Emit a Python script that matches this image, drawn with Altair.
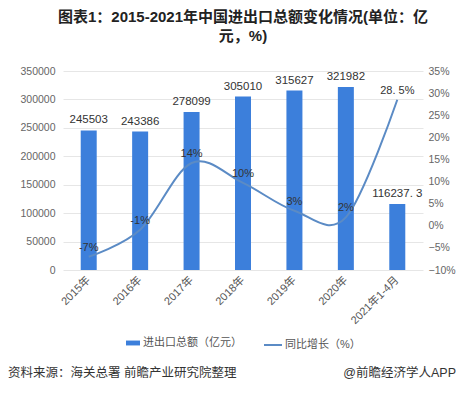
import altair as alt
import pandas as pd

years = ["2015年", "2016年", "2017年", "2018年", "2019年", "2020年", "2021年1-4月"]
totals = [245503, 243386, 278099, 305010, 315627, 321982, 116237.3]
total_labels = ["245503", "243386", "278099", "305010", "315627", "321982", "116237. 3"]
growth = [-7.0, -0.9, 14.2, 9.7, 3.4, 1.9, 28.5]
growth_labels = ["-7%", "-1%", "14%", "10%", "3%", "2%", "28. 5%"]
left_ticks = [0, 50000, 100000, 150000, 200000, 250000, 300000, 350000]
right_ticks = [-10, -5, 0, 5, 10, 15, 20, 25, 30, 35]

bar_name = "进出口总额（亿元）"
line_name = "同比增长（%）"
title_lines = ["图表1：2015-2021年中国进出口总额变化情况(单位：亿", "元，%)"]
source_text = "资料来源：海关总署 前瞻产业研究院整理"
brand_text = "@前瞻经济学人APP"

FONT = "Liberation Sans, Noto Sans CJK SC, sans-serif"
BAR_COLOR = "#3C7FDB"
LINE_COLOR = "#5B8BC5"

df = pd.DataFrame({
    "year": years,
    "total": totals,
    "total_label": total_labels,
    "growth": growth,
    "growth_label": growth_labels,
    "s1": bar_name,
    "s2": line_name,
})

x = alt.X("year:N", sort=years, title=None,
          scale=alt.Scale(paddingInner=0.69, paddingOuter=0.345),
          axis=alt.Axis(labelAngle=-45, labelAlign="right", labelBaseline="middle",
                        labelPadding=8, domain=False, ticks=False,
                        labelFontSize=11, labelColor="#555", labelFont=FONT))

y_left = alt.Y("total:Q", title=None,
               scale=alt.Scale(domain=[0, 350000], nice=False, zero=True),
               axis=alt.Axis(orient="left", values=left_ticks, format="d",
                             domain=False, ticks=False,
                             labelFontSize=10.5, labelColor="#666", labelFont=FONT,
                             labelPadding=8, grid=True, gridColor="#e6e6e6"))
y_right = alt.Y("growth:Q", title=None,
                scale=alt.Scale(domain=[-10, 35], nice=False, zero=False),
                axis=alt.Axis(orient="right", values=right_ticks, domain=False, ticks=False,
                              grid=False, labelFontSize=10.5, labelColor="#666",
                              labelFont=FONT, labelPadding=5,
                              labelExpr="format(datum.value, 'd') + '%'"))

base = alt.Chart(df)

bars = base.mark_bar(size=16).encode(
    x=x,
    y=y_left,
    color=alt.Color("s1:N", scale=alt.Scale(domain=[bar_name], range=[BAR_COLOR]),
                    legend=alt.Legend(title=None, orient="none", legendX=62, legendY=264,
                                      symbolType="M-1,-0.35L1,-0.35L1,0.35L-1,0.35Z",
                                      symbolSize=196, labelFontSize=11, labelColor="#555",
                                      labelFont=FONT, labelOffset=2)),
)
bar_text = base.mark_text(dy=-10, fontSize=11.5, color="#333", font=FONT).encode(
    x=x,
    y=y_left,
    text="total_label:N",
)
left = alt.layer(bars, bar_text)

line = base.mark_line(interpolate="cardinal", strokeWidth=2).encode(
    x=x,
    y=y_right,
    stroke=alt.Stroke("s2:N", scale=alt.Scale(domain=[line_name], range=[LINE_COLOR]),
                      legend=alt.Legend(title=None, orient="none", legendX=200, legendY=264,
                                        symbolType="stroke", symbolSize=324,
                                        symbolStrokeWidth=2, labelFontSize=11,
                                        labelColor="#555", labelFont=FONT, labelOffset=2)),
)
line_text = base.mark_text(dy=-9, fontSize=11, color="#333", font=FONT).encode(
    x=x,
    y=y_right,
    text="growth_label:N",
)
right = alt.layer(line, line_text)

foot_df = pd.DataFrame({"a": [0]})
foot_left = alt.Chart(foot_df).mark_text(align="left", baseline="middle", fontSize=12.5,
                                         color="#333", font=FONT).encode(
    x=alt.value(-55), y=alt.value(302), text=alt.value(source_text))
foot_right = alt.Chart(foot_df).mark_text(align="right", baseline="middle", fontSize=12.5,
                                          color="#333", font=FONT).encode(
    x=alt.value(393), y=alt.value(302), text=alt.value(brand_text))

chart = alt.layer(left, right, foot_left, foot_right).resolve_scale(
    y="independent", color="independent", stroke="independent"
).properties(
    width=360, height=199,
    padding={"left": 55, "top": 63, "right": 34, "bottom": 116},
    autosize=alt.AutoSizeParams(type="none"),
    title=alt.TitleParams(text=title_lines, fontSize=15, fontWeight="bold", font=FONT,
                          color="#222", anchor="middle", offset=22, lineHeight=19),
).configure_view(stroke=None)

chart.save("out.html", embed_options={"renderer": "svg", "actions": False})
